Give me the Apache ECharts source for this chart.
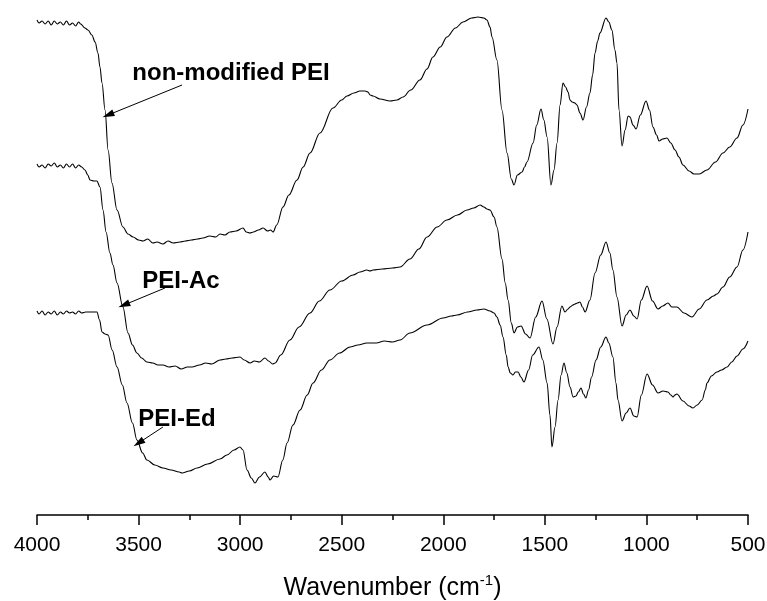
<!DOCTYPE html>
<html>
<head>
<meta charset="utf-8">
<script src="https://cdn.jsdelivr.net/npm/echarts@6/dist/echarts.min.js"></script>
<title>FTIR spectra</title>
</head>
<body style="margin:0">
<div id="container" style="width:767px;height:601px"></div>
<script type="text/javascript">

// [wavenumber (cm-1), transmittance (a.u., offset)]
let nonModified = [
  [4000,495],[3990,492],[3975,494],[3960,491],[3945,494],[3930,490],[3915,494],[3900,491],[3885,493],[3870,490],
  [3855,494],[3840,490],[3825,492],[3810,489],[3795,493],[3785,491],[3764,487],[3749,485],[3730,480],[3714,473],
  [3700,462],[3690,448],[3680,432],[3665,405],[3650,365],[3631,332],[3606,305],[3577,288],[3552,281],[3527,278],
  [3500,275],[3478,274],[3455,276],[3430,272],[3409,273],[3380,271],[3355,274],[3330,272],[3296,273],[3270,274],
  [3240,275],[3210,276],[3183,277],[3150,279],[3120,278],[3099,281],[3075,280],[3050,283],[3020,284],[2986,287],
  [2970,283],[2951,282],[2935,283],[2910,285],[2887,287],[2865,284],[2850,285],[2838,283],[2820,290],[2789,308],
  [2760,320],[2720,335],[2690,348],[2656,362],[2607,382],[2543,407],[2500,415],[2474,419],[2440,422],[2410,424],
  [2385,424],[2371,423],[2360,420],[2346,419],[2312,416],[2262,414],[2228,415],[2198,418],[2160,425],[2115,435],
  [2080,446],[2051,458],[2015,468],[1982,478],[1940,487],[1903,493],[1860,497],[1829,498],[1800,497],[1785,495],
  [1770,488],[1760,478],[1736,455],[1711,405],[1686,362],[1665,336],[1652,330],[1635,340],[1612,343],[1600,348],
  [1588,353],[1558,372],[1540,390],[1519,406],[1505,395],[1489,378],[1470,330],[1455,345],[1440,372],[1425,410],
  [1411,432],[1398,428],[1386,423],[1376,415],[1366,413],[1352,412],[1342,410],[1327,402],[1312,395],[1295,408],
  [1278,422],[1265,440],[1253,462],[1240,474],[1229,482],[1199,497],[1185,493],[1170,485],[1155,465],[1145,452],
  [1135,405],[1120,369],[1105,385],[1090,399],[1081,398],[1066,390],[1051,386],[1030,400],[1002,414],[985,405],
  [968,388],[950,380],[938,374],[920,376],[899,377],[880,372],[859,365],[840,358],[820,350],[790,344],
  [766,341],[740,341],[702,345],[660,353],[623,362],[590,368],[554,377],[525,390],[500,406]
];

let peiAc = [
  [4000,351],[3990,348],[3975,350],[3960,347],[3945,351],[3930,349],[3915,352],[3900,348],[3885,350],[3870,347],
  [3855,351],[3840,348],[3825,351],[3810,347],[3795,350],[3780,348],[3764,345],[3750,340],[3739,335],[3720,334],
  [3705,334],[3690,328],[3675,305],[3660,283],[3641,262],[3626,250],[3606,232],[3577,208],[3552,182],[3530,170],
  [3508,162],[3485,157],[3459,153],[3430,152],[3405,150],[3380,150],[3350,148],[3320,149],[3290,146],[3260,148],
  [3237,148],[3200,150],[3170,152],[3140,151],[3099,155],[3070,156],[3040,157],[3001,158],[2980,155],[2951,152],
  [2930,154],[2905,153],[2878,157],[2860,154],[2840,151],[2828,152],[2800,160],[2755,175],[2710,188],[2656,202],
  [2610,214],[2558,225],[2500,234],[2444,240],[2410,243],[2376,245],[2360,244],[2346,245],[2300,246],[2250,247],
  [2213,248],[2164,256],[2120,266],[2080,278],[2030,288],[1982,295],[1930,300],[1883,305],[1850,307],[1819,310],
  [1800,308],[1785,306],[1770,305],[1750,298],[1736,288],[1711,256],[1695,232],[1681,215],[1665,192],[1652,182],
  [1635,188],[1617,189],[1595,181],[1573,177],[1545,198],[1514,214],[1490,196],[1460,171],[1440,188],[1416,209],
  [1401,203],[1386,206],[1376,208],[1362,210],[1352,211],[1340,212],[1327,213],[1315,208],[1302,203],[1278,215],
  [1253,242],[1225,260],[1199,273],[1180,262],[1165,245],[1145,218],[1120,189],[1100,200],[1081,205],[1062,199],
  [1046,196],[1025,215],[997,229],[970,214],[943,206],[920,209],[894,212],[875,208],[850,208],[815,202],
  [776,198],[740,206],[702,215],[670,219],[653,221],[623,228],[590,238],[554,248],[525,265],[500,283]
];

let peiEd = [
  [4000,204],[3990,201],[3975,204],[3960,200],[3945,203],[3930,201],[3915,204],[3900,200],[3885,203],[3870,201],
  [3855,204],[3840,202],[3825,203],[3810,201],[3795,204],[3780,202],[3760,203],[3740,203],[3720,203],[3705,203],
  [3692,195],[3680,183],[3665,181],[3650,180],[3630,165],[3606,148],[3580,130],[3557,112],[3530,92],[3508,75],
  [3480,62],[3459,55],[3420,50],[3380,47],[3340,45],[3300,43],[3286,42],[3250,44],[3212,47],[3160,51],
  [3099,56],[3065,60],[3030,65],[3001,68],[2986,65],[2966,45],[2945,37],[2927,32],[2905,38],[2878,43],
  [2862,38],[2853,35],[2835,39],[2814,38],[2790,55],[2769,72],[2740,90],[2705,105],[2670,120],[2641,132],
  [2600,145],[2558,155],[2510,162],[2459,168],[2420,170],[2376,172],[2330,172],[2290,174],[2250,173],[2213,175],
  [2164,182],[2080,190],[2001,197],[1960,199],[1932,200],[1880,203],[1834,205],[1800,206],[1770,204],[1750,202],
  [1736,198],[1720,190],[1706,178],[1690,160],[1681,148],[1670,142],[1657,140],[1645,143],[1632,143],[1618,138],
  [1603,133],[1580,145],[1560,160],[1529,168],[1510,155],[1489,132],[1475,100],[1465,68],[1450,88],[1435,115],
  [1420,140],[1406,152],[1392,142],[1376,128],[1361,118],[1347,119],[1335,123],[1322,127],[1310,121],[1298,117],
  [1285,125],[1270,138],[1248,155],[1225,168],[1199,178],[1185,172],[1165,158],[1150,132],[1140,115],[1120,94],
  [1100,102],[1081,107],[1062,99],[1046,98],[1025,120],[997,141],[970,130],[943,122],[918,124],[894,123],
  [880,120],[869,118],[860,120],[850,121],[820,114],[790,109],[771,107],[750,110],[726,115],[710,125],
  [702,132],[680,139],[653,143],[630,145],[603,148],[580,153],[554,159],[525,166],[500,174]
];

let seriesNames = ['non-modified PEI', 'PEI-Ac', 'PEI-Ed'];
let seriesData = [nonModified, peiAc, peiEd];

// annotation text anchor and arrow (tail -> head), in data units
let labelAt   = [[3045, 442], [3291, 234], [3311, 96]];
let arrowFrom = [[3286, 430], [3370, 227], [3380, 88]];
let arrowTo   = [[3650, 400], [3572, 210], [3500, 72]];

let font = 'Liberation Sans, Arial, sans-serif';

let series = seriesData.map(function (d, i) {
    return {
        name: seriesNames[i],
        type: 'line',
        data: d,
        showSymbol: false,
        symbol: 'none',
        smooth: 0.35,
        smoothMonotone: 'x',
        lineStyle: {color: '#000', width: 1.1},
        itemStyle: {color: '#000'},
        markLine: {
            silent: true,
            symbol: ['none', 'triangle'],
            symbolSize: [7, 12],
            label: {show: false},
            lineStyle: {color: '#000', width: 1, type: 'solid'},
            data: [[{coord: arrowFrom[i]}, {coord: arrowTo[i]}]]
        },
        markPoint: {
            silent: true,
            symbol: 'circle',
            symbolSize: 1,
            itemStyle: {color: 'rgba(0,0,0,0)'},
            label: {
                show: true,
                position: 'inside',
                formatter: seriesNames[i],
                fontFamily: font,
                fontWeight: 'bold',
                fontSize: 24,
                color: '#000'
            },
            data: [{coord: labelAt[i]}]
        }
    };
});

let chart = echarts.init(document.getElementById('container'));
chart.setOption({
    animation: false,
    grid: {left: 37, right: 19, top: 10, bottom: 86, outerBoundsMode: 'none'},
    xAxis: {
        type: 'value',
        inverse: true,
        min: 500,
        max: 4000,
        interval: 500,
        axisLine: {lineStyle: {color: '#000', width: 1.5}},
        axisTick: {length: 10, lineStyle: {color: '#000', width: 1.5}},
        minorTick: {show: true, splitNumber: 2, length: 5, lineStyle: {color: '#000', width: 1.5}},
        splitLine: {show: false},
        minorSplitLine: {show: false},
        axisLabel: {
            fontFamily: font, fontSize: 21, color: '#000', margin: 20,
            formatter: function (v) { return String(v); }
        },
        name: '{t|Wavenumber (cm}{s|-1}{t|)}',
        nameLocation: 'middle',
        nameGap: 58,
        nameTextStyle: {
            rich: {
                t: {fontFamily: font, fontSize: 25, color: '#000', verticalAlign: 'bottom', lineHeight: 28},
                s: {fontFamily: font, fontSize: 15, color: '#000', verticalAlign: 'top', lineHeight: 28}
            }
        }
    },
    yAxis: {
        type: 'value',
        show: false,
        min: 0,
        max: 505
    },
    series: series
});

</script>
</body>
</html>
